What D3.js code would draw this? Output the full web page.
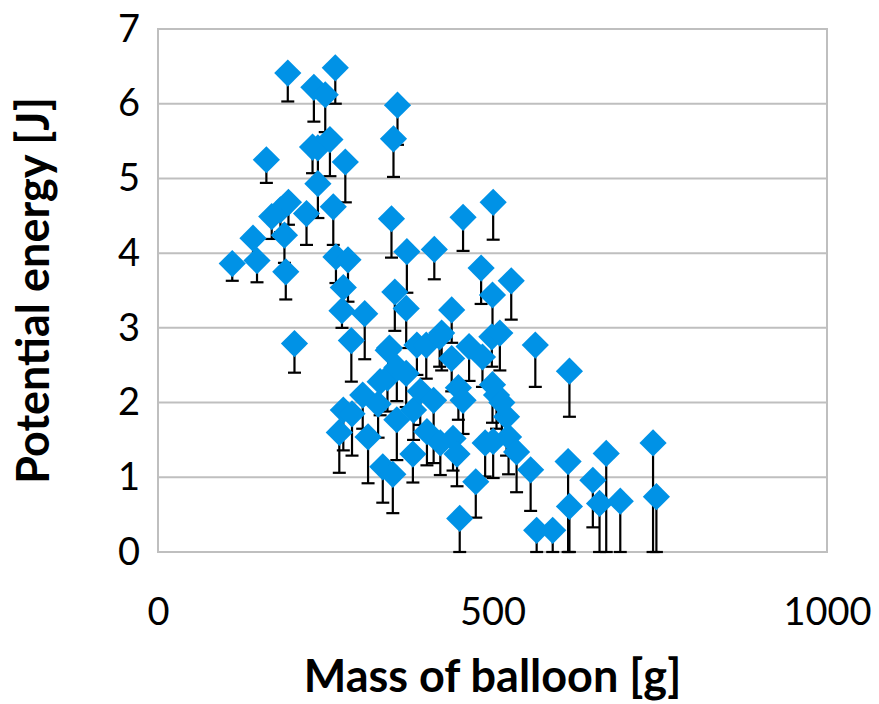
<!DOCTYPE html>
<html>
<head>
<meta charset="utf-8">
<script src="https://cdn.jsdelivr.net/npm/d3@7"></script>
<style>
  html, body { margin: 0; padding: 0; background: #ffffff; }
  svg { display: block; }
  text { font-family: Lato, "Open Sans", sans-serif; fill: #000; }
</style>
</head>
<body>
<svg id="chart" width="879" height="704"></svg>
<script>
// Balloon mass (g) for each measurement
const mass = [
  111, 142, 148, 162, 170, 183, 189, 191, 194, 195,
  204, 222, 231, 233, 239, 239, 250, 257, 262, 265,
  266, 277, 275, 280, 284, 289, 309, 344, 346, 349,
  352, 354, 358, 371, 372, 387, 401, 413, 421, 424,
  439, 439, 456, 465, 483, 485, 499, 500, 501, 511,
  528, 564, 615, 343, 332, 357, 371, 449, 500, 306,
  277, 271, 290, 314, 329, 357, 382, 392, 412, 381,
  336, 351, 402, 422, 441, 447, 456, 475, 451, 489,
  501, 524, 536, 557, 506, 521, 566, 590, 615, 613,
  650, 660, 670, 691, 740, 745, 514
];

// Potential energy (J)
const energy = [
  3.86, 4.20, 3.90, 5.25, 4.49, 4.58, 4.24, 3.75, 6.41, 4.68,
  2.79, 4.53, 5.42, 6.22, 5.41, 4.93, 6.12, 5.52, 4.62, 6.48,
  3.95, 3.54, 3.23, 5.22, 3.91, 2.83, 3.19, 2.70, 2.73, 4.46,
  5.53, 3.48, 5.98, 3.26, 4.02, 2.77, 2.77, 4.05, 2.88, 2.93,
  3.24, 2.59, 4.48, 2.75, 3.80, 2.61, 2.88, 3.44, 4.68, 2.93,
  3.63, 2.77, 2.42, 2.33, 2.28, 2.47, 2.39, 2.20, 2.24, 2.10,
  1.90, 1.60, 1.85, 1.54, 1.98, 1.77, 1.90, 2.15, 2.03, 1.31,
  1.14, 1.04, 1.61, 1.46, 1.52, 1.31, 2.03, 0.94, 0.45, 1.46,
  1.48, 1.54, 1.34, 1.10, 2.10, 1.81, 0.29, 0.29, 0.61, 1.21,
  0.96, 0.65, 1.32, 0.68, 1.46, 0.74, 2.00
];

// Minus-side uncertainty (J); bars stop at zero
const errMinus = [
  0.23, 0.28, 0.29, 0.31, 0.30, 0.30, 0.37, 0.37, 0.38, 0.30,
  0.39, 0.42, 0.35, 0.46, 0.40, 0.46, 0.50, 0.49, 0.51, 0.48,
  0.35, 0.30, 0.23, 0.54, 0.56, 0.55, 0.61, 0.40, 0.45, 0.52,
  0.51, 0.52, 0.53, 0.53, 0.55, 0.40, 0.45, 0.40, 0.40, 0.50,
  0.44, 0.44, 0.45, 0.46, 0.48, 0.40, 0.40, 0.50, 0.50, 0.50,
  0.52, 0.56, 0.61, 0.45, 0.45, 0.45, 0.45, 0.43, 0.51, 0.45,
  0.54, 0.54, 0.56, 0.62, 0.45, 0.54, 0.40, 0.45, 0.84, 0.38,
  0.48, 0.52, 0.45, 0.43, 0.43, 0.43, 0.45, 0.48, 0.45, 0.45,
  0.49, 0.50, 0.54, 0.55, 0.45, 0.52, 0.29, 0.29, 0.61, 1.21,
  0.63, 0.65, 1.32, 0.68, 1.46, 0.74, 0.45
];

const xTicks = [0, 500, 1000];
const yTicks = [0, 1, 2, 3, 4, 5, 6, 7];

const svg = d3.select("#chart");
const margin = { left: 158, right: 52, top: 29, bottom: 152 };
const W = 879, H = 704;

const x = d3.scaleLinear().domain([0, 1000]).range([margin.left, W - margin.right]);
const y = d3.scaleLinear().domain([0, 7]).range([H - margin.bottom, margin.top]);

const gridColor = "#bfbfbf";

// Horizontal gridlines
svg.append("g")
  .selectAll("line")
  .data(yTicks)
  .join("line")
  .attr("x1", x(0)).attr("x2", x(1000))
  .attr("y1", d => y(d)).attr("y2", d => y(d))
  .attr("stroke", gridColor).attr("stroke-width", 2);

// Plot-area frame
svg.append("rect")
  .attr("x", x(0)).attr("y", y(7))
  .attr("width", x(1000) - x(0)).attr("height", y(0) - y(7))
  .attr("fill", "none").attr("stroke", gridColor).attr("stroke-width", 2);

// Axes (labels only, no domain or tick marks)
const yAxis = d3.axisLeft(y).tickValues(yTicks).tickFormat(d3.format("d")).tickSize(0).tickPadding(18);
svg.append("g").attr("transform", `translate(${x(0)},0)`).call(yAxis)
  .call(g => g.select(".domain").remove())
  .selectAll("text").attr("font-size", 38).attr("font-family", "Lato, sans-serif");

const xAxis = d3.axisBottom(x).tickValues(xTicks).tickFormat(d3.format("d")).tickSize(0).tickPadding(46);
svg.append("g").attr("transform", `translate(0,${y(0)})`).call(xAxis)
  .call(g => g.select(".domain").remove())
  .selectAll("text").attr("font-size", 38).attr("font-family", "Lato, sans-serif");

const pts = mass.map((m, i) => ({ m, e: energy[i], lo: Math.max(0, energy[i] - errMinus[i]) }));

// Error bars (minus direction) with caps
const eb = svg.append("g").attr("stroke", "#000").attr("stroke-width", 2.2);
eb.selectAll("line.stem").data(pts).join("line").attr("class", "stem")
  .attr("x1", d => x(d.m)).attr("x2", d => x(d.m))
  .attr("y1", d => y(d.e)).attr("y2", d => y(d.lo));
eb.selectAll("line.cap").data(pts).join("line").attr("class", "cap")
  .attr("x1", d => x(d.m) - 6.5).attr("x2", d => x(d.m) + 6.5)
  .attr("y1", d => y(d.lo)).attr("y2", d => y(d.lo));

// Diamond markers
const diamond = d3.symbol().type(d3.symbolSquare).size(370);
svg.append("g").selectAll("path").data(pts).join("path")
  .attr("d", diamond)
  .attr("transform", d => `translate(${x(d.m)},${y(d.e)}) rotate(45)`)
  .attr("fill", "#0092e6");

// Axis titles
svg.append("text")
  .attr("x", (x(0) + x(1000)) / 2).attr("y", 692)
  .attr("text-anchor", "middle")
  .attr("font-size", 45).attr("font-weight", "bold")
  .text("Mass of balloon [g]");

svg.append("text")
  .attr("transform", `translate(49,${(y(0) + y(7)) / 2}) rotate(-90)`)
  .attr("text-anchor", "middle")
  .attr("font-size", 45).attr("font-weight", "bold")
  .text("Potential energy [J]");
</script>
</body>
</html>
